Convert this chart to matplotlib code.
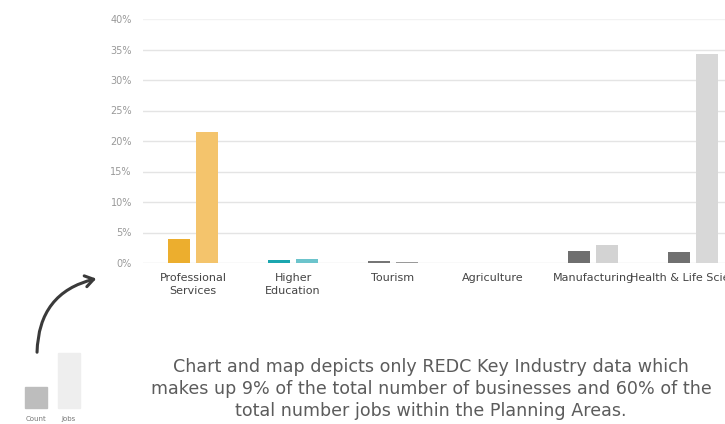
import matplotlib.pyplot as plt
import numpy as np
from matplotlib.patches import FancyArrowPatch, Rectangle

industries = ["Professional\nServices", "Higher\nEducation", "Tourism",
              "Agriculture", "Manufacturing", "Health & Life Sciences"]
count_pct = [3.9, 0.5, 0.25, 0.08, 2.0, 1.8]
jobs_pct = [21.5, 0.6, 0.2, 0.08, 2.9, 34.2]
count_colors = ["#ecae2e", "#1ba6af", "#767676", "#dcdcdc", "#6f6f6f", "#707070"]
jobs_colors = ["#f4c46c", "#6cc4cc", "#9a9a9a", "#e6e6e6", "#d3d3d3", "#d8d8d8"]
yticks = [0, 5, 10, 15, 20, 25, 30, 35, 40]

caption = ("Chart and map depicts only REDC Key Industry data which\n"
           "makes up 9% of the total number of businesses and 60% of the\n"
           "total number jobs within the Planning Areas.")

W, H = 725, 424
fig = plt.figure(figsize=(W / 100, H / 100), dpi=100)
ax = fig.add_axes([143 / W, 1 - 263 / H, (W - 143) / W, (263 - 19) / H])

x = np.arange(len(industries))
ax.bar(x - 0.14, count_pct, width=0.22, color=count_colors, zorder=3)
ax.bar(x + 0.14, jobs_pct, width=0.22, color=jobs_colors, zorder=3)

ax.set_xlim(-0.5, (W - 193) / 100)
ax.set_ylim(0, 40)
ax.set_yticks(yticks)
ax.set_yticklabels([f"{t}%" for t in yticks], color="#999999", fontsize=7)
for t in yticks:
    ax.axhline(t, color="#f2f2f2" if t == 40 else "#e4e4e4", lw=1, zorder=1)
ax.set_xticks(x)
ax.set_xticklabels(industries, fontsize=8, color="#444444", linespacing=1.4)
ax.tick_params(axis="y", length=0, pad=8)
ax.tick_params(axis="x", length=0, pad=7)
for s in ax.spines.values():
    s.set_visible(False)

fig.text(431 / W, 1 - 389 / H, caption, ha="center", va="center",
         fontsize=12.6, color="#5c5c5c", linespacing=1.3)

# curved arrow pointing at the chart
arrow = FancyArrowPatch((37 / W, 1 - 355 / H), (99 / W, 1 - 278 / H),
                        transform=fig.transFigure,
                        connectionstyle="arc3,rad=-0.4",
                        arrowstyle="->,head_length=6,head_width=4",
                        color="#3a3a3a", lw=2.2)
fig.patches.append(arrow)

# small key
fig.patches.append(Rectangle((25 / W, 1 - 408 / H), 22 / W, 21 / H,
                             transform=fig.transFigure, color="#bdbdbd"))
fig.patches.append(Rectangle((58 / W, 1 - 408 / H), 22 / W, 55 / H,
                             transform=fig.transFigure, color="#eeeeee"))
fig.text(36 / W, 1 - 419 / H, "Count", ha="center", va="center",
         fontsize=5, color="#777777")
fig.text(69 / W, 1 - 419 / H, "Jobs", ha="center", va="center",
         fontsize=5, color="#777777")

fig.savefig("out.png", dpi=100)
